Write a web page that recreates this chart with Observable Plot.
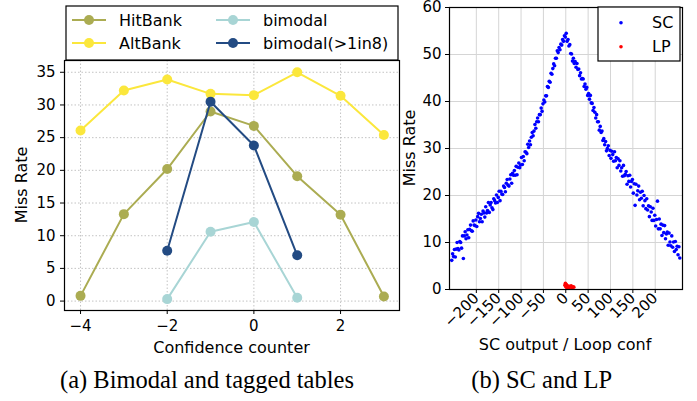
<!DOCTYPE html>
<html><head><meta charset="utf-8">
<script src="https://cdn.jsdelivr.net/npm/d3@7"></script>
<script src="https://cdn.jsdelivr.net/npm/@observablehq/plot@0.6"></script>
<style>
html,body{margin:0;padding:0;background:#fff;}
#wrap{position:relative;width:697px;height:401px;overflow:hidden;font-family:"DejaVu Sans",sans-serif;}
#wrap > svg{position:absolute;}
</style></head><body><div id="wrap"></div>
<script>
// ---------- (a) data ----------
const counters = [-4, -3, -2, -1, 0, 1, 2, 3];
const hitBank = [0.8, 13.3, 20.2, 29.0, 26.8, 19.1, 13.2, 0.7];
const altBank = [26.1, 32.2, 33.9, 31.7, 31.5, 35.0, 31.4, 25.4];
const bimodalCounters = [-2, -1, 0, 1];
const bimodal = [0.3, 10.6, 12.1, 0.5];
const bimodal8 = [7.7, 30.5, 23.8, 7.0];
const seriesNames = ["HitBank", "AltBank", "bimodal", "bimodal(>1in8)"];
const seriesColors = ["#abac52", "#fbe73c", "#a8d5d5", "#234b83"];
const xTicksA = [-4, -2, 0, 2];
const yTicksA = [0, 5, 10, 15, 20, 25, 30, 35];

// ---------- (b) data ----------
const scX = [-255,-253,-251,-249,-247,-245,-243,-241,-239,-237,-235,-233,-231,-229,-227,-225,-223,-221,-219,-217,-215,-213,-211,-209,-207,-205,-203,-201,-199,-197,-195,-193,-191,-189,-187,-185,-183,-181,-179,-177,-175,-173,-171,-169,-167,-165,-163,-161,-159,-157,-155,-153,-151,-149,-147,-145,-143,-141,-139,-137,-135,-133,-131,-129,-127,-125,-123,-121,-119,-117,-115,-113,-111,-109,-107,-105,-103,-101,-99,-97,-95,-93,-91,-89,-87,-85,-83,-81,-79,-77,-75,-73,-71,-69,-67,-65,-63,-61,-59,-57,-55,-53,-51,-49,-47,-45,-43,-41,-39,-37,-35,-33,-31,-29,-27,-25,-23,-21,-19,-17,-15,-13,-11,-9,-7,-5,-3,-1,
1,3,5,7,9,11,13,15,17,19,21,23,25,27,29,31,33,35,37,39,41,43,45,47,49,51,53,55,57,59,61,63,65,67,69,71,73,75,77,79,81,83,85,87,89,91,93,95,97,99,101,103,105,107,109,111,113,115,117,119,121,123,125,127,129,131,133,135,137,139,141,143,145,147,149,151,153,155,157,159,161,163,165,167,169,171,173,175,177,179,181,183,185,187,189,191,193,195,197,199,201,203,205,207,209,211,213,215,217,219,221,223,225,227,229,231,233,235,237,239,241,243,245,247,249,251,253,255];
const scY = [6.2,7.6,7.0,8.5,6.9,8.6,10.0,8.7,8.4,10.2,10.0,8.8,11.4,6.6,11.4,12.3,10.8,11.6,12.7,11.0,12.8,13.7,12.5,12.4,14.6,13.7,13.6,14.8,13.4,15.5,16.2,14.4,15.1,16.0,14.4,16.7,16.3,15.4,17.6,16.3,16.8,18.5,16.4,18.0,18.5,17.4,17.0,19.3,18.9,18.4,20.1,18.5,19.6,20.9,18.9,20.9,20.3,20.2,22.0,21.7,20.8,22.6,23.4,22.2,22.0,23.5,24.4,22.6,24.7,24.3,25.3,24.3,26.2,24.4,26.0,26.9,25.9,26.5,28.1,26.6,28.3,27.4,29.3,29.2,28.9,30.9,30.2,31.6,30.8,32.4,33.4,32.7,33.7,35.1,34.3,35.7,36.5,35.7,37.2,37.2,38.6,37.9,39.5,40.3,39.9,41.2,41.2,43.2,43.0,44.3,44.1,46.0,45.8,47.0,48.0,47.6,49.2,49.2,50.8,50.4,51.5,51.0,52.2,52.0,53.2,52.8,54.0,53.7,
54.5,52.8,53.2,51.8,52.1,50.2,50.1,48.6,49.2,48.1,48.5,47.3,48.1,46.8,46.9,45.5,46.1,44.8,44.9,44.8,43.2,43.7,42.6,43.0,41.3,41.7,40.5,41.3,39.7,39.6,38.1,38.7,37.7,36.5,37.2,35.7,35.7,33.9,34.7,33.4,33.7,31.7,32.1,30.8,31.5,29.5,30.0,30.6,28.5,29.6,27.9,29.4,28.7,27.3,29.3,27.4,28.1,25.9,27.8,26.4,27.4,25.2,25.9,24.1,26.4,24.2,24.5,25.1,22.4,24.2,23.0,24.3,21.8,23.0,23.4,20.5,22.5,17.9,22.4,20.1,21.0,22.0,19.1,20.7,19.4,20.9,17.8,20.0,18.9,17.2,19.3,16.9,17.8,15.5,17.6,16.5,14.7,17.3,14.7,15.8,13.5,14.9,18.8,12.9,15.0,12.9,13.9,11.5,13.7,12.1,13.6,10.8,11.8,12.2,9.4,12.0,10.1,9.3,11.4,9.0,10.1,8.1,10.2,8.5,9.2,7.4,9.1,6.7];
const lpX = [-2, -1, 0, 1, 2, 4, 6, 8, 10, 12, 14, 16, 18];
const lpY = [0.9, 1.3, 0.6, 1.1, 0.4, 0.8, 0.3, 0.7, 0.5, 0.8, 0.3, 0.6, 0.5];
const xTicksB = [-200, -150, -100, -50, 0, 50, 100, 150, 200];
const yTicksB = [0, 10, 20, 30, 40, 50, 60];

// ---------- build tables ----------
const seriesA = [
  counters.map((c, i) => ({x: c, y: hitBank[i]})),
  counters.map((c, i) => ({x: c, y: altBank[i]})),
  bimodalCounters.map((c, i) => ({x: c, y: bimodal[i]})),
  bimodalCounters.map((c, i) => ({x: c, y: bimodal8[i]}))
];
const sc = scX.map((x, i) => ({x, y: scY[i]}));
const lp = lpX.map((x, i) => ({x, y: lpY[i]}));

const baseStyle = {fontFamily: "DejaVu Sans", fontSize: "15px", background: "transparent", color: "#000", overflow: "visible"};

const seriesMarks = [];
seriesA.forEach((d, k) => {
  seriesMarks.push(Plot.line(d, {x: "x", y: "y", stroke: seriesColors[k], strokeWidth: 2}));
  seriesMarks.push(Plot.dot(d, {x: "x", y: "y", r: 5, fill: seriesColors[k]}));
});

const left = Plot.plot({
  width: 400, height: 345, marginLeft: 64, marginRight: 1, marginTop: 60, marginBottom: 35,
  style: baseStyle,
  x: {domain: [-4.37, 3.36]},
  y: {domain: [-1.44, 36.8]},
  marks: [
    Plot.ruleX(xTicksA, {stroke: "#b5b5b5", strokeWidth: 0.8, strokeDasharray: "1.5,2"}),
    Plot.ruleY(yTicksA, {stroke: "#b5b5b5", strokeWidth: 0.8, strokeDasharray: "1.5,2"}),
    ...seriesMarks,
    Plot.frame({stroke: "#000", strokeWidth: 1.2}),
    Plot.axisX({ticks: xTicksA, tickSize: 4, tickPadding: 6, label: null}),
    Plot.axisY({ticks: yTicksA, tickSize: 4, tickPadding: 5, label: null})
  ]
});
left.style.left = "0px"; left.style.top = "0px";

const right = Plot.plot({
  width: 297, height: 360, marginLeft: 49, marginRight: 15, marginTop: 7, marginBottom: 71,
  style: baseStyle,
  x: {domain: [-260, 261]},
  y: {domain: [0, 60]},
  marks: [
    Plot.ruleX(xTicksB, {stroke: "#d5d5d5", strokeWidth: 1}),
    Plot.ruleY(yTicksB, {stroke: "#d5d5d5", strokeWidth: 1}),
    Plot.dot(sc, {x: "x", y: "y", r: 1.8, fill: "#0000ff"}),
    Plot.dot(lp, {x: "x", y: "y", r: 1.8, fill: "#ff0000"}),
    Plot.frame({stroke: "#000", strokeWidth: 1.2}),
    Plot.axisX({ticks: xTicksB, tickRotate: -45, tickSize: 4, tickPadding: 2, label: null}),
    Plot.axisY({ticks: yTicksB, tickSize: 4, tickPadding: 4, label: null})
  ]
});
right.style.left = "400px"; right.style.top = "0px";

const wrap = document.getElementById("wrap");
wrap.appendChild(left);
wrap.appendChild(right);

// ---------- overlay: legends, axis titles, captions ----------
const ov = d3.select(wrap).append("svg")
  .attr("width", 697).attr("height", 401)
  .style("left", "0px").style("top", "0px")
  .attr("font-family", "DejaVu Sans");

// legend (a)
ov.append("rect").attr("x", 66).attr("y", 6).attr("width", 332).attr("height", 54)
  .attr("fill", "#fff").attr("stroke", "#000").attr("stroke-width", 1.2);
const legPos = [{x: 72, y: 20}, {x: 72, y: 43}, {x: 216, y: 20}, {x: 216, y: 43}];
seriesNames.forEach((name, k) => {
  const p = legPos[k];
  ov.append("line").attr("x1", p.x).attr("x2", p.x + 34).attr("y1", p.y).attr("y2", p.y)
    .attr("stroke", seriesColors[k]).attr("stroke-width", 2);
  ov.append("circle").attr("cx", p.x + 17).attr("cy", p.y).attr("r", 5).attr("fill", seriesColors[k]);
  ov.append("text").attr("x", p.x + 47).attr("y", p.y).attr("dy", "0.35em")
    .attr("font-size", 16).attr("fill", "#000").text(name);
});

// legend (b)
ov.append("rect").attr("x", 598).attr("y", 7).attr("width", 82).attr("height", 54)
  .attr("fill", "#fff").attr("stroke", "#000").attr("stroke-width", 1.2);
[["SC", "#0000ff", 22.7], ["LP", "#ff0000", 46.7]].forEach(([name, col, y]) => {
  ov.append("circle").attr("cx", 621).attr("cy", y).attr("r", 1.8).attr("fill", col);
  ov.append("text").attr("x", 652).attr("y", y).attr("dy", "0.35em")
    .attr("font-size", 16).attr("fill", "#000").text(name);
});

// axis titles
function label(x, y, txt, rot) {
  ov.append("text").attr("transform", `translate(${x},${y}) rotate(${rot})`)
    .attr("text-anchor", "middle").attr("dy", "0.35em")
    .attr("font-size", 16).attr("fill", "#000").text(txt);
}
label(231.5, 347.5, "Confidence counter", 0);
label(21, 185, "Miss Rate", -90);
label(409, 148, "Miss Rate", -90);
label(565, 344, "SC output / Loop conf", 0);

// captions
[["(a) Bimodal and tagged tables", 207], ["(b) SC and LP", 541.7]].forEach(([t, x]) => {
  ov.append("text").attr("x", x).attr("y", 388).attr("text-anchor", "middle")
    .attr("font-family", "Liberation Serif, Times New Roman, serif")
    .attr("font-size", 24.5).attr("fill", "#000").text(t);
});
</script></body></html>
